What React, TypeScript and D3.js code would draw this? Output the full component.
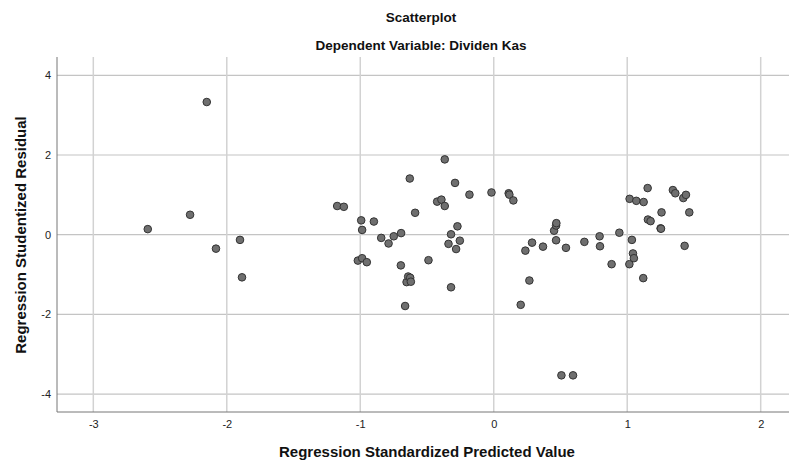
import React, { useEffect, useRef } from "react";
import * as d3 from "d3";

// Regression Standardized Predicted Value
const predicted = [
  -2.592, -2.275, -2.15, -2.081, -1.901, -1.886, -1.173, -1.123, -1.018, -0.993,
  -0.986, -0.986, -0.951, -0.898, -0.843, -0.788, -0.749, -0.696, -0.694, -0.664,
  -0.653, -0.641, -0.629, -0.626, -0.621, -0.589, -0.489, -0.424, -0.392, -0.367,
  -0.367, -0.339, -0.32, -0.32, -0.29, -0.282, -0.272, -0.254, -0.182, -0.017,
  0.112, 0.117, 0.147, 0.202, 0.237, 0.267, 0.287, 0.369, 0.452, 0.467,
  0.469, 0.467, 0.507, 0.541, 0.594, 0.679, 0.793, 0.796, 0.883, 0.941,
  1.016, 1.018, 1.035, 1.043, 1.05, 1.068, 1.12, 1.123, 1.153, 1.155,
  1.175, 1.25, 1.253, 1.257, 1.342, 1.36, 1.42, 1.43, 1.44, 1.465,
];

// Regression Studentized Residual
const residual = [
  0.14, 0.5, 3.33, -0.35, -0.13, -1.07, 0.72, 0.7, -0.65, 0.36,
  0.12, -0.59, -0.69, 0.33, -0.08, -0.22, -0.04, -0.77, 0.04, -1.79,
  -1.19, -1.05, 1.41, -1.08, -1.18, 0.55, -0.64, 0.83, 0.88, 1.89,
  0.72, -0.23, 0.01, -1.32, 1.3, -0.36, 0.21, -0.15, 1.005, 1.06,
  1.04, 1.005, 0.86, -1.76, -0.4, -1.15, -0.2, -0.3, 0.1, 0.23,
  0.29, -0.14, -3.53, -0.33, -3.53, -0.18, -0.04, -0.29, -0.74, 0.05,
  -0.74, 0.9, -0.13, -0.47, -0.59, 0.85, -1.09, 0.82, 1.17, 0.38,
  0.34, 0.16, 0.15, 0.56, 1.12, 1.04, 0.92, -0.28, 1.0, 0.56,
];

const xTicks = [-3, -2, -1, 0, 1, 2];
const yTicks = [-4, -2, 0, 2, 4];

const W = 789;
const H = 461;

export default function App() {
  const ref = useRef<SVGSVGElement>(null);

  useEffect(() => {
    const svg = d3.select(ref.current);
    svg.selectAll("*").remove();

    const left = 57, right = 789, top = 57, bottom = 412;

    const x = d3.scaleLinear().domain([-3.272, 2.212]).range([left, right]);
    const y = d3.scaleLinear().domain([-4.45, 4.46]).range([bottom, top]);

    const font = "Liberation Sans, Arial, sans-serif";
    const fmt = (d: any) => String(d);

    // grid
    svg.append("g")
      .selectAll("line")
      .data(yTicks)
      .join("line")
      .attr("x1", left)
      .attr("x2", right)
      .attr("y1", (d) => y(d))
      .attr("y2", (d) => y(d))
      .attr("stroke", "#c4c4c4")
      .attr("stroke-width", 1.2);

    svg.append("g")
      .selectAll("line")
      .data(xTicks)
      .join("line")
      .attr("x1", (d) => x(d))
      .attr("x2", (d) => x(d))
      .attr("y1", top)
      .attr("y2", bottom)
      .attr("stroke", "#d2d2d2")
      .attr("stroke-width", 1.5);

    // axes
    const xAxis = svg.append("g")
      .attr("transform", `translate(0, ${bottom})`)
      .call(d3.axisBottom(x).tickValues(xTicks).tickSize(0).tickPadding(8).tickFormat(fmt));
    xAxis.select(".domain").attr("stroke", "#777").attr("d", `M${left},0H${right}`);
    xAxis.selectAll("text").attr("font-family", font).attr("font-size", 11).attr("fill", "#222");

    const yAxis = svg.append("g")
      .attr("transform", `translate(${left}, 0)`)
      .call(d3.axisLeft(y).tickValues(yTicks).tickSize(0).tickPadding(6).tickFormat(fmt));
    yAxis.select(".domain").attr("stroke", "#777").attr("d", `M0,${top}V${bottom}`);
    yAxis.selectAll("text").attr("font-family", font).attr("font-size", 11).attr("fill", "#222");

    // points
    const pts = predicted.map((p, i) => ({ p, r: residual[i] }));
    svg.append("g")
      .selectAll("circle")
      .data(pts)
      .join("circle")
      .attr("cx", (d) => x(d.p))
      .attr("cy", (d) => y(d.r))
      .attr("r", 3.8)
      .attr("fill", "#6f6f6f")
      .attr("stroke", "#333")
      .attr("stroke-width", 1);

    // titles
    svg.append("text")
      .attr("x", 421)
      .attr("y", 22)
      .attr("text-anchor", "middle")
      .attr("font-family", font)
      .attr("font-weight", "bold")
      .attr("font-size", 13.5)
      .attr("fill", "#111")
      .text("Scatterplot");

    svg.append("text")
      .attr("x", 421)
      .attr("y", 50)
      .attr("text-anchor", "middle")
      .attr("font-family", font)
      .attr("font-weight", "bold")
      .attr("font-size", 13.5)
      .attr("fill", "#111")
      .text("Dependent Variable: Dividen Kas");

    svg.append("text")
      .attr("x", 427)
      .attr("y", 457)
      .attr("text-anchor", "middle")
      .attr("font-family", font)
      .attr("font-weight", "bold")
      .attr("font-size", 15)
      .attr("fill", "#111")
      .text("Regression Standardized Predicted Value");

    svg.append("text")
      .attr("transform", "rotate(-90)")
      .attr("x", -235)
      .attr("y", 26)
      .attr("text-anchor", "middle")
      .attr("font-family", font)
      .attr("font-weight", "bold")
      .attr("font-size", 15)
      .attr("fill", "#111")
      .text("Regression Studentized Residual");
  }, []);

  return (
    <div style={{ position: "absolute", left: 0, top: 0 }}>
      <svg ref={ref} width={W} height={H} style={{ display: "block", background: "#fff" }} />
    </div>
  );
}
